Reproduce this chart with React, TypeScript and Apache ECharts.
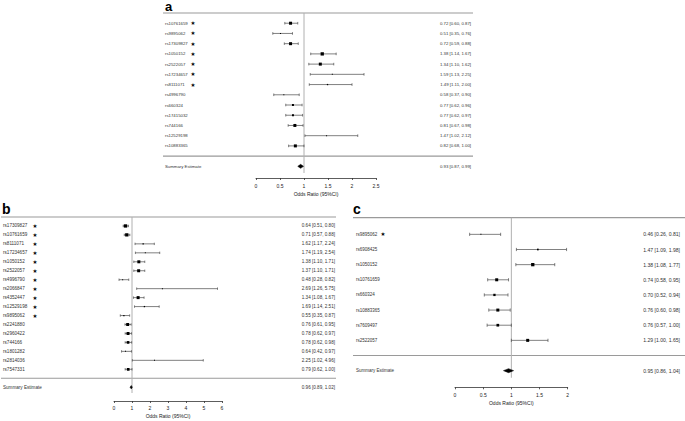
import React, { useEffect, useRef } from "react";
import * as echarts from "echarts";

// ---------- Panel a ----------
const aSnps = ["rs10761659", "rs9895062", "rs17309827", "rs1050152", "rs2522057", "rs17234657", "rs8111071", "rs4996790", "rs660324", "rs17415032", "rs744166", "rs12529198", "rs10883365"];
const aOR = [0.72, 0.51, 0.72, 1.38, 1.34, 1.59, 1.49, 0.58, 0.77, 0.77, 0.81, 1.47, 0.82];
const aLo = [0.60, 0.35, 0.59, 1.14, 1.10, 1.13, 1.11, 0.37, 0.62, 0.62, 0.67, 1.02, 0.68];
const aHi = [0.87, 0.76, 0.88, 1.67, 1.62, 2.25, 2.00, 0.90, 0.96, 0.97, 0.98, 2.12, 1.00];
const aWeight = [3, 1, 3, 3.3, 3, 1, 1.3, 1, 2, 2, 3, 1, 3];
const aStar = [true, true, true, true, true, true, true, false, false, false, false, false, false];
const aSummary = [0.93, 0.87, 0.99];

// ---------- Panel b ----------
const bSnps = ["rs17309827", "rs10761659", "rs8111071", "rs17234657", "rs1050152", "rs2522057", "rs4996790", "rs2066847", "rs4352447", "rs12529198", "rs9895062", "rs2241880", "rs2960422", "rs744166", "rs1801282", "rs2814036", "rs7547331"];
const bOR = [0.64, 0.71, 1.62, 1.74, 1.38, 1.37, 0.48, 2.69, 1.34, 1.69, 0.55, 0.76, 0.78, 0.78, 0.64, 2.25, 0.79];
const bLo = [0.51, 0.57, 1.17, 1.19, 1.10, 1.10, 0.28, 1.26, 1.08, 1.14, 0.35, 0.61, 0.62, 0.62, 0.42, 1.02, 0.62];
const bHi = [0.80, 0.88, 2.24, 2.54, 1.71, 1.71, 0.82, 5.75, 1.67, 2.51, 0.87, 0.95, 0.97, 0.98, 0.97, 4.96, 1.00];
const bWeight = [3.3, 3.3, 1.3, 1, 3, 3, 1, 1, 3, 1.3, 1.3, 3, 3, 2.7, 1, 1, 2.7];
const bStar = [true, true, true, true, true, true, true, true, true, true, true, false, false, false, false, false, false];
const bSummary = [0.96, 0.89, 1.02];

// ---------- Panel c ----------
const cSnps = ["rs9895062", "rs6908425", "rs1050152", "rs10761659", "rs660324", "rs10883365", "rs7609497", "rs2522057"];
const cOR = [0.46, 1.47, 1.38, 0.74, 0.70, 0.76, 0.76, 1.29];
const cLo = [0.26, 1.09, 1.08, 0.58, 0.52, 0.60, 0.57, 1.00];
const cHi = [0.81, 1.98, 1.77, 0.95, 0.94, 0.98, 1.00, 1.65];
const cWeight = [1, 1.7, 3.3, 3, 2.3, 3, 2.7, 3];
const cStar = [true, false, false, false, false, false, false, false];
const cSummary = [0.95, 0.86, 1.04];

const axisTitle = "Odds Ratio (95%CI)";
const summaryLabel = "Summary Estimate";
const FONT = '"Liberation Sans", Arial, sans-serif';

const panels = [
  {
    title: "a", snps: aSnps, or: aOR, lo: aLo, hi: aHi, w: aWeight, star: aStar, summary: aSummary,
    grid: { left: 256, top: 13, width: 120, height: 165 }, yMin: -1, yMax: 15.14, xMax: 2.5, xInterval: 0.5,
    labelDx: -91, starDx: -63, ciDx: 95, lineL: -93, lineR: 97, labelSize: 4.3, ciSize: 4.3,
    capH: 1.3, diamondH: 2, refExt: 0.65, labelMargin: 5, nameGap: 13.5, titlePos: [165, 0], titleAlign: "top",
  },
  {
    title: "b", snps: bSnps, or: bOR, lo: bLo, hi: bHi, w: bWeight, star: bStar, summary: bSummary,
    grid: { left: 114, top: 217, width: 108, height: 184 }, yMin: -1, yMax: 19.54, xMax: 6, xInterval: 1,
    labelDx: -111, starDx: -79, ciDx: 113, lineL: -113, lineR: 114, labelSize: 4.6, ciSize: 4.6,
    capH: 1.2, diamondH: 1.7, refExt: 0.65, labelMargin: 4, nameGap: 12.5, titlePos: [2, 209.2], titleAlign: "middle",
  },
  {
    title: "c", snps: cSnps, or: cOR, lo: cLo, hi: cHi, w: cWeight, star: cStar, summary: cSummary,
    grid: { left: 455, top: 217.7, width: 112.7, height: 169.6 }, yMin: -1.1, yMax: 10.1, xMax: 2, xInterval: 0.5,
    labelDx: -99, starDx: -72, ciDx: 112.3, lineL: -102, lineR: 118, labelSize: 4.5, ciSize: 5.1,
    capH: 1.6, diamondH: 2, refExt: 0.47, labelMargin: 5, nameGap: 13.5, titlePos: [353, 209.2], titleAlign: "middle",
  },
];

const fmt = (v: number) => v.toFixed(2);

function makeRender(p: any) {
  const n = p.snps.length;
  return (params: any, api: any) => {
    const idx = params.dataIndex;
    const isSum = idx === 0;
    const or = api.value(0);
    const row = api.value(1);
    const lo = api.value(2);
    const hi = api.value(3);
    const w = api.value(4);
    const c = api.coord([or, row]);
    const l = api.coord([lo, row]);
    const h = api.coord([hi, row]);
    const cs = params.coordSys;
    const left = cs.x;
    const right = cs.x + cs.width;
    const y = c[1];
    const children: any[] = [];
    const lineStroke = "#4a4a4a";
    if (isSum) {
      const top = api.coord([0, p.yMin])[1];
      const sep = api.coord([0, n])[1];
      const refEnd = api.coord([1, row + p.refExt]);
      children.push({ type: "line", shape: { x1: left + p.lineL, y1: top, x2: right + p.lineR, y2: top }, style: { stroke: "#9a9a9a", lineWidth: 1.2 } });
      children.push({ type: "line", shape: { x1: left + p.lineL, y1: sep, x2: right + p.lineR, y2: sep }, style: { stroke: "#9a9a9a", lineWidth: 1.2 } });
      children.push({ type: "line", shape: { x1: refEnd[0], y1: top, x2: refEnd[0], y2: refEnd[1] }, style: { stroke: "#b0b0b0", lineWidth: 1 } });
      children.push({
        type: "polygon",
        shape: { points: [[l[0], y], [c[0], y - p.diamondH], [h[0], y], [c[0], y + p.diamondH]] },
        style: { fill: "#000", stroke: "#000", lineWidth: 0.5 },
      });
    } else {
      children.push({ type: "line", shape: { x1: l[0], y1: y, x2: h[0], y2: y }, style: { stroke: lineStroke, lineWidth: 0.7 } });
      children.push({ type: "line", shape: { x1: l[0], y1: y - p.capH, x2: l[0], y2: y + p.capH }, style: { stroke: lineStroke, lineWidth: 0.7 } });
      children.push({ type: "line", shape: { x1: h[0], y1: y - p.capH, x2: h[0], y2: y + p.capH }, style: { stroke: lineStroke, lineWidth: 0.7 } });
      children.push({ type: "rect", shape: { x: c[0] - w / 2, y: y - w / 2, width: w, height: w }, style: { fill: "#000" } });
      if (p.star[idx - 1]) {
        children.push({
          type: "text", x: left + p.starDx, y,
          style: { text: "★", fontSize: 5.5, fontFamily: "DejaVu Sans", fill: "#000", align: "center", verticalAlign: "middle" },
        });
      }
    }
    const name = isSum ? summaryLabel : p.snps[idx - 1];
    children.push({
      type: "text", x: left + p.labelDx, y,
      style: { text: name, fontSize: p.labelSize, fontFamily: FONT, fill: "#333", align: "left", verticalAlign: "middle" },
    });
    children.push({
      type: "text", x: right + p.ciDx, y,
      style: { text: `${fmt(or)} [${fmt(lo)}, ${fmt(hi)}]`, fontSize: p.ciSize, fontFamily: FONT, fill: "#333", align: "right", verticalAlign: "middle" },
    });
    return { type: "group", children };
  };
}

export default function App() {
  const ref = useRef<HTMLDivElement>(null);
  useEffect(() => {
    document.body.style.margin = "0";
    if (!ref.current) return;
    const chart = echarts.init(ref.current, null, { renderer: "svg" });
    const grids: any[] = [];
    const xAxes: any[] = [];
    const yAxes: any[] = [];
    const series: any[] = [];
    const graphics: any[] = [];
    panels.forEach((p, i) => {
      grids.push({ ...p.grid, containLabel: false });
      xAxes.push({
        type: "value", gridIndex: i, min: 0, max: p.xMax, interval: p.xInterval,
        splitLine: { show: false },
        axisLine: { show: true, onZero: false, lineStyle: { color: "#333", width: 0.8 } },
        axisTick: { show: true, length: 2, lineStyle: { color: "#333", width: 0.8 } },
        axisLabel: { fontSize: 5, color: "#222", fontFamily: FONT, margin: p.labelMargin, showMinLabel: true, showMaxLabel: true },
        name: axisTitle, nameLocation: "middle", nameGap: p.nameGap,
        nameTextStyle: { fontSize: 5, color: "#222", fontFamily: FONT },
      });
      yAxes.push({ type: "value", gridIndex: i, inverse: true, min: p.yMin, max: p.yMax, show: false });
      const data: any[] = [[p.summary[0], p.snps.length + 1, p.summary[1], p.summary[2], 0, 1]];
      p.snps.forEach((_: string, k: number) => {
        data.push([p.or[k], k, p.lo[k], p.hi[k], p.w[k], 0]);
      });
      series.push({
        type: "custom", coordinateSystem: "cartesian2d", xAxisIndex: i, yAxisIndex: i,
        clip: false, silent: true, renderItem: makeRender(p), data,
        encode: { x: [0, 2, 3], y: 1 },
      });
      graphics.push({
        type: "text", x: p.titlePos[0], y: p.titlePos[1],
        style: { text: p.title, fontSize: p.title === "a" ? 13 : 14, fontWeight: "bold", fontFamily: FONT, fill: "#000", align: "left", verticalAlign: p.titleAlign },
      });
    });
    chart.setOption({
      animation: false,
      backgroundColor: "#fff",
      grid: grids,
      xAxis: xAxes,
      yAxis: yAxes,
      series,
      graphic: graphics,
    });
    return () => chart.dispose();
  }, []);
  return <div ref={ref} style={{ width: 685, height: 421 }} />;
}
